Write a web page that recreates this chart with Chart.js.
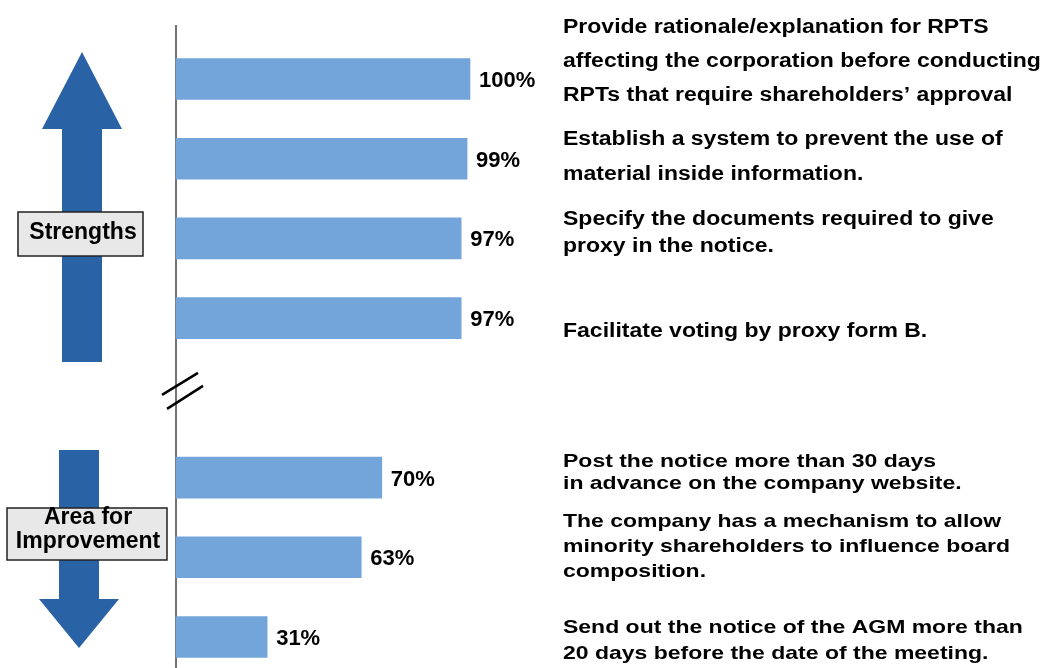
<!DOCTYPE html>
<html>
<head>
<meta charset="utf-8">
<script src="https://cdn.jsdelivr.net/npm/chart.js@4.4.1/dist/chart.umd.min.js"></script>
<style>
  html, body { margin: 0; padding: 0; background: #fff; }
  #wrap { width: 1044px; height: 668px; position: relative; }
</style>
</head>
<body>
<div id="wrap"><canvas id="chart"></canvas></div>
<script>
// one blank category in the middle makes the break between the two groups
const categories = ['RPT rationale', 'Inside information', 'Proxy documents', 'Proxy form B', '', 'Notice 30 days', 'Minority influence', 'AGM notice 20 days'];
const scores = [100, 99, 97, 97, null, 70, 63, 31];
const descriptions = [
  ['Provide rationale/explanation for RPTS', 'affecting the corporation before conducting', 'RPTs that require shareholders\u2019 approval'],
  ['Establish a system to prevent the use of', 'material inside information.'],
  ['Specify the documents required to give', 'proxy in the notice.'],
  ['Facilitate voting by proxy form B.'],
  [],
  ['Post the notice more than 30 days', 'in advance on the company website.'],
  ['The company has a mechanism to allow', 'minority shareholders to influence board', 'composition.'],
  ['Send out the notice of the AGM more than', '20 days before the date of the meeting.']
];
const groupLabels = [['Strengths'], ['Area for', 'Improvement']];

// text look for each description block (size, horizontal stretch, line height, shift from bar centre)
const descStyle = [
  { size: 20, sx: 1.15, lh: 34, dy: -18 },
  { size: 20, sx: 1.15, lh: 35, dy: -2 },
  { size: 20, sx: 1.15, lh: 27, dy: -5 },
  { size: 20, sx: 1.15, lh: 27, dy: 13 },
  null,
  { size: 19, sx: 1.21, lh: 22, dy: -5 },
  { size: 19, sx: 1.21, lh: 25, dy: -11 },
  { size: 19, sx: 1.21, lh: 26, dy: 4 }
];

const barColor = '#73a4da';
const arrowColor = '#2a62a6';
const FONT = '"Liberation Sans", Arial, sans-serif';

function arrow(c, cx, shaftW, headW, y0, yHead, yTip) {
  c.beginPath();
  c.moveTo(cx - shaftW / 2, y0);
  c.lineTo(cx - shaftW / 2, yHead);
  c.lineTo(cx - headW / 2, yHead);
  c.lineTo(cx, yTip);
  c.lineTo(cx + headW / 2, yHead);
  c.lineTo(cx + shaftW / 2, yHead);
  c.lineTo(cx + shaftW / 2, y0);
  c.closePath();
  c.fill();
}

function labelBox(c, x, y, w, h, lines, centerX, lineYs) {
  c.fillStyle = '#e8e8e8';
  c.fillRect(x, y, w, h);
  c.strokeStyle = '#222';
  c.lineWidth = 1.5;
  c.strokeRect(x, y, w, h);
  c.fillStyle = '#000';
  c.font = 'bold 23px ' + FONT;
  c.textAlign = 'center';
  c.textBaseline = 'middle';
  lines.forEach((t, i) => c.fillText(t, centerX, lineYs[i]));
}

const decorations = {
  id: 'decorations',
  beforeDatasetsDraw(chart) {
    const { ctx: c, scales } = chart;
    const x0 = scales.x.getPixelForValue(0);
    c.save();
    // arrows
    c.fillStyle = arrowColor;
    arrow(c, 82, 40, 80, 362, 129, 52);
    arrow(c, 79, 40, 80, 450, 599, 648);
    // axis line
    c.strokeStyle = '#444';
    c.lineWidth = 1.5;
    c.beginPath();
    c.moveTo(x0, 25);
    c.lineTo(x0, 668);
    c.stroke();
    // break marks on the blank category
    const yb = scales.y.getPixelForValue(4) - 7;
    c.strokeStyle = '#000';
    c.lineWidth = 2.5;
    c.beginPath();
    c.moveTo(x0 - 14, yb + 4); c.lineTo(x0 + 22, yb - 18);
    c.moveTo(x0 - 9, yb + 18); c.lineTo(x0 + 27, yb - 5);
    c.stroke();
    // group boxes
    labelBox(c, 18, 212, 125, 44, groupLabels[0], 83, [233]);
    labelBox(c, 7, 508, 160, 52, groupLabels[1], 88, [518, 542]);
    c.restore();
  },
  afterDatasetsDraw(chart) {
    const { ctx: c } = chart;
    const meta = chart.getDatasetMeta(0);
    c.save();
    c.fillStyle = '#000';
    c.textBaseline = 'middle';
    c.textAlign = 'left';
    meta.data.forEach((bar, i) => {
      if (scores[i] == null) return;
      c.font = 'bold 22px ' + FONT;
      c.fillText(scores[i] + '%', bar.x + 9, bar.y + 2);
      const st = descStyle[i];
      const lines = descriptions[i];
      c.font = 'bold ' + st.size + 'px ' + FONT;
      const yStart = bar.y + st.dy - (lines.length - 1) * st.lh / 2;
      lines.forEach((t, k) => {
        c.save();
        c.translate(563, yStart + k * st.lh);
        c.scale(st.sx, 1);
        c.fillText(t, 0, 0);
        c.restore();
      });
    });
    c.restore();
  }
};

new Chart(document.getElementById('chart'), {
  type: 'bar',
  data: {
    labels: categories,
    datasets: [{
      data: scores,
      backgroundColor: barColor,
      borderWidth: 0,
      barThickness: 41,
      clip: false
    }]
  },
  options: {
    indexAxis: 'y',
    responsive: true,
    maintainAspectRatio: false,
    animation: false,
    layout: { padding: { left: 176, right: 574, top: 79, bottom: 31 } },
    plugins: { legend: { display: false }, tooltip: { enabled: false } },
    scales: {
      x: { min: 0, max: 100, display: false },
      y: { type: 'category', offset: false, display: false }
    }
  },
  plugins: [decorations]
});
</script>
</body>
</html>
